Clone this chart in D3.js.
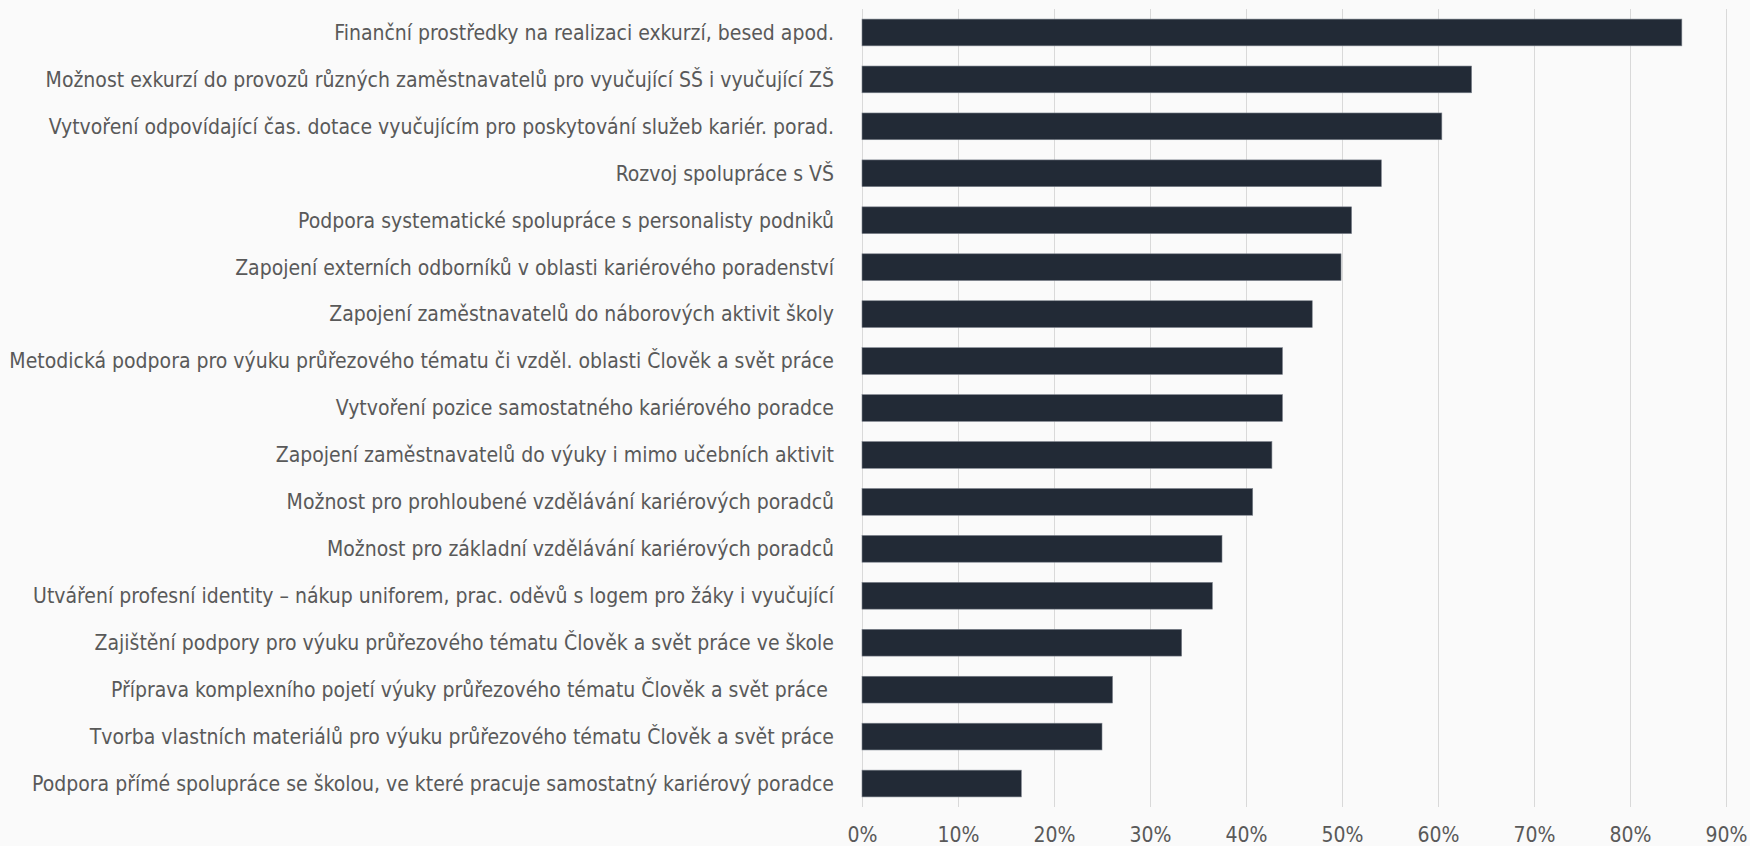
<!DOCTYPE html>
<html>
<head>
<meta charset="utf-8">
<script src="https://cdn.jsdelivr.net/npm/d3@7"></script>
<style>
    html, body { margin: 0; padding: 0; background: #fafafa; }
    svg { display: block; }
    .label, .tick text { font-family: "Liberation Sans Narrow", "DejaVu Sans Condensed", "Liberation Sans", sans-serif; fill: #595959; }
</style>
</head>
<body>
<svg id="chart"></svg>
<script>
var categories = [
    "Finanční prostředky na realizaci exkurzí, besed apod.",
    "Možnost exkurzí do provozů různých zaměstnavatelů pro vyučující SŠ i vyučující ZŠ",
    "Vytvoření odpovídající čas. dotace vyučujícím pro poskytování služeb kariér. porad.",
    "Rozvoj spolupráce s VŠ",
    "Podpora systematické spolupráce s personalisty podniků",
    "Zapojení externích odborníků v oblasti kariérového poradenství",
    "Zapojení zaměstnavatelů do náborových aktivit školy",
    "Metodická podpora pro výuku průřezového tématu či vzděl. oblasti Člověk a svět práce",
    "Vytvoření pozice samostatného kariérového poradce",
    "Zapojení zaměstnavatelů do výuky i mimo učebních aktivit",
    "Možnost pro prohloubené vzdělávání kariérových poradců",
    "Možnost pro základní vzdělávání kariérových poradců",
    "Utváření profesní identity – nákup uniforem, prac. oděvů s logem pro žáky i vyučující",
    "Zajištění podpory pro výuku průřezového tématu Člověk a svět práce ve škole",
    "Příprava komplexního pojetí výuky průřezového tématu Člověk a svět práce ",
    "Tvorba vlastních materiálů pro výuku průřezového tématu Člověk a svět práce",
    "Podpora přímé spolupráce se školou, ve které pracuje samostatný kariérový poradce"
];

// share of answers, percent
var values = [85.4, 63.5, 60.4, 54.1, 51.0, 49.9, 46.9, 43.8, 43.8, 42.7, 40.7, 37.5, 36.5, 33.3, 26.1, 25.0, 16.6];

var tickValues = [0, 10, 20, 30, 40, 50, 60, 70, 80, 90];

var W = 1750, H = 846,
    margin = {top: 9, right: 24, bottom: 39, left: 862},
    width = W - margin.left - margin.right,
    height = H - margin.top - margin.bottom;

var data = categories.map(function(c, i) { return {name: c, value: values[i]}; });

var x = d3.scaleLinear()
        .domain([0, 90])
        .range([0, width]);

var y = d3.scaleBand()
        .domain(categories)
        .range([0, height])
        .paddingInner(0.43)
        .paddingOuter(0.215);

var svg = d3.select("#chart")
        .attr("width", W)
        .attr("height", H);

svg.append("rect")
        .attr("width", W)
        .attr("height", H)
        .attr("fill", "#fafafa");

var g = svg.append("g")
        .attr("transform", "translate(" + margin.left + "," + margin.top + ")");

// gridlines + tick labels from the bottom axis
var xAxis = d3.axisBottom(x)
        .tickValues(tickValues)
        .tickSize(height)
        .tickPadding(20)
        .tickFormat(function(d) { return d + "%"; });

var axisG = g.append("g")
        .attr("class", "x axis")
        .call(xAxis);

axisG.select(".domain").remove();
axisG.selectAll(".tick line")
        .attr("stroke", "#d9d9d9")
        .attr("stroke-width", 1);
axisG.selectAll(".tick text")
        .style("font-size", "21px");

g.selectAll("rect.bar")
        .data(data)
    .enter().append("rect")
        .attr("class", "bar")
        .attr("x", x(0))
        .attr("y", function(d) { return y(d.name); })
        .attr("width", function(d) { return x(d.value) - x(0); })
        .attr("height", y.bandwidth())
        .attr("fill", "#222a36")
        .attr("stroke", "#7d838d")
        .attr("stroke-width", 0.6);

g.selectAll("text.label")
        .data(data)
    .enter().append("text")
        .attr("class", "label")
        .attr("x", -28)
        .attr("y", function(d) { return y(d.name) + y.bandwidth() / 2; })
        .attr("dy", "0.35em")
        .attr("text-anchor", "end")
        .attr("xml:space", "preserve")
        .style("font-size", "21px")
        .text(function(d) { return d.name; });
</script>
</body>
</html>
